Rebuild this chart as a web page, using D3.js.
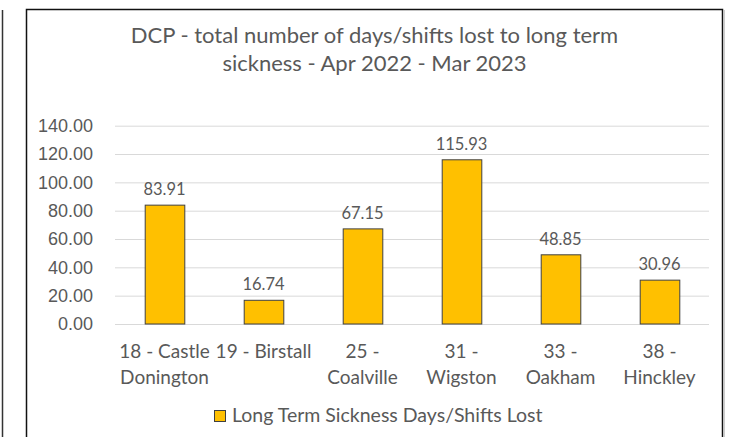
<!DOCTYPE html>
<html>
<head>
<meta charset="utf-8">
<script src="https://cdn.jsdelivr.net/npm/d3@7"></script>
<style>
  body { margin: 0; background: #fff; }
  svg { display: block; font-family: Lato, "Open Sans", sans-serif; }
  .grid line { stroke: #d9d9d9; stroke-width: 1px; }
  .txt { fill: #595959; }
  .bar { fill: #ffc000; stroke: #404040; stroke-width: 1px; }
</style>
</head>
<body>
<svg id="chart" width="733" height="437"></svg>
<script>
  // data
  var categories = ["18 - Castle Donington", "19 - Birstall", "25 - Coalville",
                    "31 - Wigston", "33 - Oakham", "38 - Hinckley"];
  var tickLines = [["18 - Castle", "Donington"], ["19 - Birstall"], ["25 -", "Coalville"],
                   ["31 -", "Wigston"], ["33 -", "Oakham"], ["38 -", "Hinckley"]];
  var values = [83.91, 16.74, 67.15, 115.93, 48.85, 30.96];
  var yTicks = [0, 20, 40, 60, 80, 100, 120, 140];
  var titleLines = ["DCP - total number of days/shifts lost to long term",
                    "sickness - Apr 2022 - Mar 2023"];
  var seriesName = "Long Term Sickness Days/Shifts Lost";

  var svg = d3.select("#chart");

  var plot = { left: 115, right: 709, top: 125.7, bottom: 324 };

  // outer frame lines
  svg.append("line")
    .attr("x1", 2.5).attr("x2", 2.5).attr("y1", 10).attr("y2", 437)
    .attr("stroke", "#333").attr("stroke-width", 1.5);
  svg.append("line")
    .attr("x1", 724.5).attr("x2", 724.5).attr("y1", 10).attr("y2", 437)
    .attr("stroke", "#ccc").attr("stroke-width", 1);
  svg.append("rect")
    .attr("x", 26.5).attr("y", 9.5).attr("width", 696).attr("height", 450)
    .attr("fill", "none").attr("stroke", "#111").attr("stroke-width", 1.5);

  var x = d3.scaleBand()
    .domain(categories)
    .range([plot.left, plot.right])
    .paddingInner(0.6)
    .paddingOuter(0.3);

  var y = d3.scaleLinear()
    .domain([0, 140])
    .range([plot.bottom, plot.top]);

  // title
  svg.append("text")
    .attr("class", "txt")
    .attr("text-anchor", "middle")
    .style("font-size", "22px")
    .selectAll("tspan")
    .data(titleLines)
    .join("tspan")
    .attr("x", 374.5)
    .attr("y", function(d, i) { return 43 + i * 28; })
    .text(function(d) { return d; });

  // gridlines + y labels
  var yAxis = d3.axisLeft(y)
    .tickValues(yTicks)
    .tickSize(-(plot.right - plot.left))
    .tickPadding(22)
    .tickFormat(d3.format(".2f"));

  var gy = svg.append("g")
    .attr("class", "grid")
    .attr("transform", "translate(" + plot.left + ",0)")
    .call(yAxis);
  gy.select(".domain").remove();
  gy.selectAll("text")
    .attr("class", "txt")
    .attr("fill", null)
    .style("font-size", "18px");

  // bars
  svg.append("g")
    .selectAll("rect")
    .data(values)
    .join("rect")
    .attr("class", "bar")
    .attr("x", function(d, i) { return x(categories[i]) + 0.5; })
    .attr("y", function(d) { return y(d); })
    .attr("width", x.bandwidth())
    .attr("height", function(d) { return y(0) - y(d); });

  // data labels
  svg.append("g")
    .selectAll("text")
    .data(values)
    .join("text")
    .attr("class", "txt")
    .attr("text-anchor", "middle")
    .style("font-size", "16.5px")
    .attr("x", function(d, i) { return x(categories[i]) + x.bandwidth() / 2; })
    .attr("y", function(d) { return y(d) - 10; })
    .text(function(d) { return d.toFixed(2); });

  // category labels
  var xl = svg.append("g")
    .selectAll("text")
    .data(tickLines)
    .join("text")
    .attr("class", "txt")
    .attr("text-anchor", "middle")
    .style("font-size", "19px");
  xl.selectAll("tspan")
    .data(function(d, i) { return d.map(function(t) { return { t: t, i: i }; }); })
    .join("tspan")
    .attr("x", function(d) { return x(categories[d.i]) + x.bandwidth() / 2; })
    .attr("y", function(d, j) { return 358 + j * 26; })
    .text(function(d) { return d.t; });

  // legend
  var leg = svg.append("g");
  leg.append("rect")
    .attr("class", "bar")
    .attr("x", 214.5).attr("y", 410.5)
    .attr("width", 11).attr("height", 11);
  leg.append("text")
    .attr("class", "txt")
    .attr("x", 232).attr("y", 421.5)
    .style("font-size", "19.5px")
    .text(seriesName);
</script>
</body>
</html>
